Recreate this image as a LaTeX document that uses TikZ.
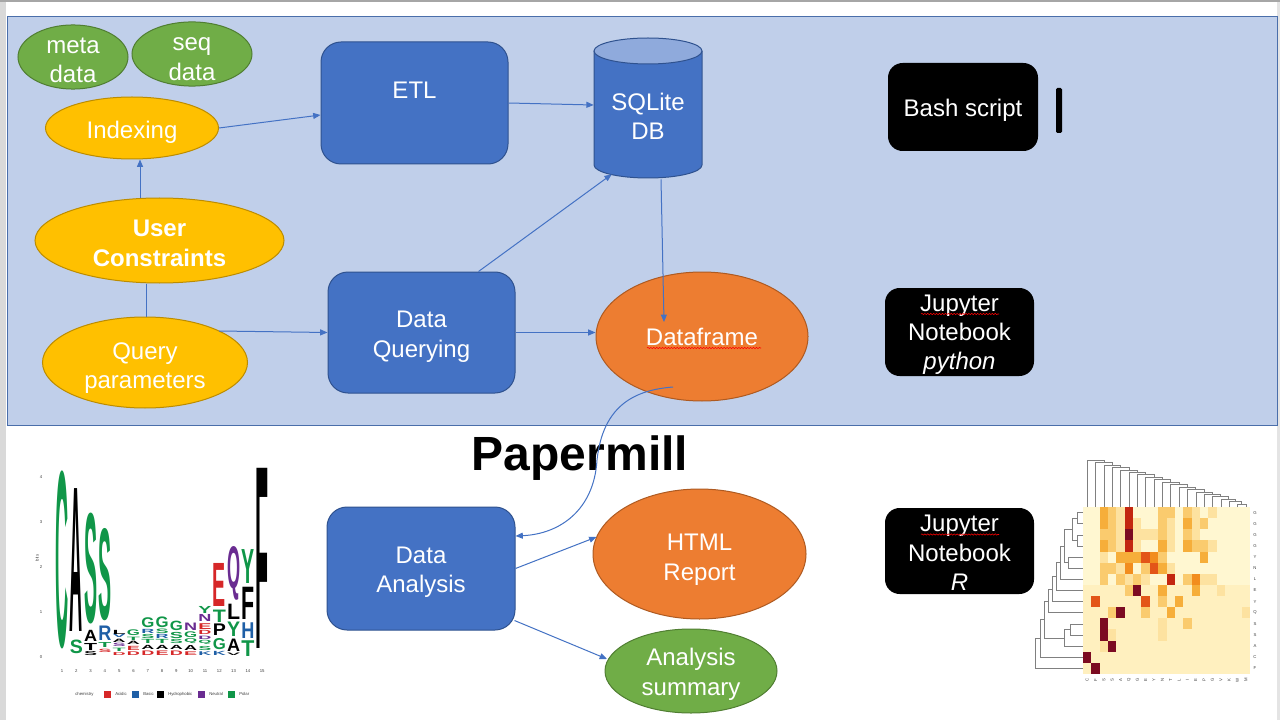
\documentclass[tikz,border=0pt]{standalone}
\usepackage{fontspec}
\setmainfont{Liberation Sans}
\usepackage{graphicx}
\usetikzlibrary{arrows.meta,calc,shapes.geometric,decorations.pathmorphing}

\definecolor{bgblue}{HTML}{C0CFEA}
\definecolor{bgline}{HTML}{4A6EAA}
\definecolor{accblue}{HTML}{4472C4}
\definecolor{darkblue}{HTML}{2F528F}
\definecolor{gold}{HTML}{FFC000}
\definecolor{golddk}{HTML}{BC8C00}
\definecolor{grn}{HTML}{70AD47}
\definecolor{grndk}{HTML}{507E32}
\definecolor{orng}{HTML}{ED7D31}
\definecolor{orngdk}{HTML}{AE5A21}
\definecolor{cyltop}{HTML}{8FAADC}
\definecolor{sidegray}{HTML}{D9D9D9}
\definecolor{topgray}{HTML}{A6A6A6}
\definecolor{lgG}{HTML}{109648}
\definecolor{lgR}{HTML}{D62728}
\definecolor{lgB}{HTML}{1F5FA6}
\definecolor{lgP}{HTML}{6A2C91}
\definecolor{lgK}{HTML}{000000}
\definecolor{hm9}{HTML}{FFF7D1}
\definecolor{hm0}{HTML}{FFF0BF}
\definecolor{hm1}{HTML}{FDE2A0}
\definecolor{hm2}{HTML}{FACB6E}
\definecolor{hm3}{HTML}{F6AE3A}
\definecolor{hm4}{HTML}{F28D1E}
\definecolor{hm5}{HTML}{E35518}
\definecolor{hm6}{HTML}{C3260F}
\definecolor{hm7}{HTML}{7C0B22}

\newcount\lgcnt
\newcommand\lgletter[5]{%
  \pgfmathsetmacro\lgx{62+14.3*(#1-1)}%
  \pgfmathsetmacro\lgy{657-45*(#2+0.04*(#3-#2))}%
  \pgfmathsetmacro\lgh{(#3-#2)*33.75*0.92}%
  \global\advance\lgcnt by 1\relax
  \node[anchor=south, inner sep=0pt, text=#5] (lg\the\lgcnt) at (\lgx,\lgy) {\resizebox*{9.8pt}{\lgh pt}{\bfseries #4}};%
}
\newcommand\dmerge[5]{%
  \draw[dend] (#1,#2) -- (#5,#2) -- (#5,#4) -- (#3,#4);%
}
% lower a line of text without changing its box
\newcommand\dn[2][1.7pt]{\raisebox{-#1}[\height][\depth]{#2}}

\tikzset{
  sz/.style 2 args={minimum width=#1*0.75pt, minimum height=#2*0.75pt},
  tsh/.style={text height=#1, text depth=-8.4pt},
  lbl/.style={text=white, font=\fontsize{18}{22}\selectfont, align=center, inner sep=0pt},
  ell/.style={lbl, ellipse, line width=0.75pt},
  bluebox/.style={lbl, rectangle, rounded corners=15pt, fill=accblue, draw=darkblue, line width=0.75pt},
  blk/.style={lbl, rectangle, rounded corners=11pt, fill=black},
  conn/.style={draw=accblue, line width=0.75pt, -{Triangle[length=5.5pt,width=4.5pt]}},
  pconn/.style={draw=accblue, line width=0.75pt},
  squig/.style={draw=red, line width=0.4pt, decorate, decoration={snake, amplitude=0.5pt, segment length=2.2pt}},
  dend/.style={draw=gray, line width=0.35pt},
  tinytxt/.style={font=\fontsize{3.2}{4}\selectfont, text=black!75, inner sep=0pt},
}

\begin{document}
\begin{tikzpicture}[x=0.75pt,y=-0.75pt]
\useasboundingbox (0,0) rectangle (1280,720);
\fill[white] (0,0) rectangle (1280,720);
\fill[sidegray] (0,0) rectangle (6,720);
\fill[sidegray!70] (1277,0) rectangle (1280,720);
\fill[topgray] (0,0) rectangle (1280,2);
\filldraw[fill=bgblue, draw=bgline, line width=0.75pt] (7,17) rectangle (1277,425);

% ---- top pipeline nodes
\node[ell, tsh=34pt, fill=grn, draw=grndk, sz={110}{64}] (meta) at (73,57) {\dn[2.25pt]{meta}\\\dn[2.25pt]{data}};
\node[ell, tsh=34pt, fill=grn, draw=grndk, sz={120}{62}] (seq) at (192,54) {\dn[2.6pt]{seq}\\\dn[2.6pt]{data}};
\node[ell, tsh=12pt, fill=gold, draw=golddk, sz={173}{62}] (idx) at (132,128) {\dn[1.9pt]{Indexing}};
\node[ell, tsh=34pt, fill=gold, draw=golddk, sz={249}{85}, font=\bfseries\fontsize{18}{22}\selectfont] (uc) at (159.5,240.5) {\dn[2.25pt]{User}\\\dn[2.25pt]{Constraints}};
\node[ell, tsh=34pt, fill=gold, draw=golddk, sz={205}{91}] (qp) at (145,362.5) {\dn[2.6pt]{Query}\\\dn[2.6pt]{parameters}};
\node[bluebox, tsh=34pt, sz={187}{122}] (etl) at (414.5,103) {\dn[1.5pt]{ETL}\\\mbox{}};
\node[bluebox, tsh=34pt, sz={187}{121}] (dq) at (421.5,332.5) {\dn[1.5pt]{Data}\\\dn[1.5pt]{Querying}};

% SQLite cylinder
\fill[accblue] (594,51) rectangle (702,165);
\fill[accblue] (648,165) ellipse [x radius=40.5pt, y radius=9.75pt];
\draw[darkblue, line width=0.75pt] (594,51) -- (594,165) arc[start angle=180, end angle=360, x radius=40.5pt, y radius=9.75pt] -- (702,51);
\filldraw[fill=cyltop, draw=darkblue, line width=0.75pt] (648,51) ellipse [x radius=40.5pt, y radius=9.75pt];
\node[lbl, sz={108}{140}] (sqlite) at (648,108) {};
\node[lbl] (sqltxt) at (648,116) {SQLite\\DB};

\node[ell, fill=orng, draw=orngdk, sz={212}{129}] (df) at (702,336.5) {Dataframe};
\draw[squig] ($(df.center)+(-55,11.5)$) -- ($(df.center)+(59,11.5)$);

\node[blk, tsh=12pt, sz={150}{88}] (bash) at (963,107) {\dn[1.5pt]{Bash script}};
\fill[black, rounded corners=1pt] (1056,88) rectangle (1062,133);
\node[blk, tsh=56pt, sz={149}{88}] (jpy) at (959.5,332) {\dn[0.4pt]{Jupyter}\\\dn[0.4pt]{Notebook}\\\dn[0.4pt]{\textit{python}}};
\draw[squig] ($(jpy.center)+(-38.5,-18)$) -- ($(jpy.center)+(39.5,-18)$);
\node[blk, tsh=56pt, sz={149}{86}] (jr) at (959.5,551) {\dn[1.5pt]{Jupyter}\\\dn[1.5pt]{Notebook}\\\dn[1.5pt]{\textit{R}}};
\draw[squig] ($(jr.center)+(-38.5,-16.5)$) -- ($(jr.center)+(39.5,-16.5)$);

% ---- lower part
\node[font=\bfseries\fontsize{36}{40}\selectfont, inner sep=0pt, anchor=base] (pm) at (580,470) {Papermill};
\node[bluebox, tsh=34pt, sz={188}{123}] (da) at (421,568.5) {\dn[1.1pt]{Data}\\\dn[1.1pt]{Analysis}};
\node[ell, tsh=34pt, fill=orng, draw=orngdk, sz={213}{130}] (html) at (699.5,554) {\dn[2.6pt]{HTML}\\\dn[2.6pt]{Report}};
\node[ell, tsh=34pt, fill=grn, draw=grndk, sz={172}{84}] (sum) at (691,671) {\dn[1.1pt]{Analysis}\\\dn[1.1pt]{summary}};

% ---- connectors
\coordinate (dfin) at ($(df.center)+(-38,-14.5)$);
\coordinate (dfout) at ($(df.center)+(-29,50.5)$);
\draw[conn] (idx.east) -- ($(etl.west)+(0,12)$);
\draw[conn] (etl.east) -- ($(sqlite.west)+(0,-3)$);
\draw[conn] ($(uc.north)+(-19.5,0.5)$) -- ($(idx.south)+(8,0)$);
\draw[pconn] ($(uc.south)+(-13.5,0)$) -- ($(qp.north)+(1,0)$);
\draw[conn] ($(qp.center)+(74,-31.5)$) -- (dq.west);
\draw[conn] ($(dq.north east)+(-37,0)$) -- ($(sqlite.south west)+(18,-4)$);
\draw[conn] (dq.east) -- (dq.east -| df.west);
\draw[conn] ($(sqlite.south)+(13,1)$) -- (dfin);
\draw[conn] (dfout) .. controls (635,390) and (603,405) .. (597,460) .. controls (594,510) and (560,534) .. ($(da.east)+(0,-32.5)$);
\draw[conn] (da.east) -- ($(html.center)+(-103,-17)$);
\draw[conn] ($(da.south east)+(-1,-10)$) -- ($(sum.center)+(-84,-12)$);

% ---- sequence logo
\lgletter{1}{0}{4.3}{C}{lgG}
\lgletter{2}{0.05}{0.38}{S}{lgG}
\lgletter{2}{0.42}{3.87}{A}{lgK}
\lgletter{3}{0.02}{0.12}{S}{lgK}
\lgletter{3}{0.13}{0.3}{T}{lgK}
\lgletter{3}{0.33}{0.6}{A}{lgK}
\lgletter{3}{0.62}{3.3}{S}{lgG}
\lgletter{4}{0.1}{0.18}{S}{lgR}
\lgletter{4}{0.2}{0.32}{T}{lgG}
\lgletter{4}{0.35}{0.7}{R}{lgB}
\lgletter{4}{0.72}{2.95}{S}{lgG}
\lgletter{5}{0.03}{0.1}{D}{lgR}
\lgletter{5}{0.12}{0.2}{T}{lgG}
\lgletter{5}{0.22}{0.3}{S}{lgP}
\lgletter{5}{0.32}{0.4}{A}{lgK}
\lgletter{5}{0.42}{0.5}{V}{lgB}
\lgletter{5}{0.5}{0.6}{L}{lgK}
\lgletter{6}{0.03}{0.12}{D}{lgR}
\lgletter{6}{0.14}{0.24}{E}{lgR}
\lgletter{6}{0.26}{0.34}{A}{lgK}
\lgletter{6}{0.36}{0.44}{T}{lgG}
\lgletter{6}{0.46}{0.6}{G}{lgG}
\lgletter{7}{0.03}{0.14}{D}{lgR}
\lgletter{7}{0.16}{0.26}{A}{lgK}
\lgletter{7}{0.28}{0.38}{T}{lgG}
\lgletter{7}{0.4}{0.5}{S}{lgG}
\lgletter{7}{0.52}{0.62}{R}{lgB}
\lgletter{7}{0.63}{0.87}{G}{lgG}
\lgletter{8}{0.03}{0.14}{E}{lgR}
\lgletter{8}{0.16}{0.26}{A}{lgK}
\lgletter{8}{0.28}{0.38}{T}{lgG}
\lgletter{8}{0.4}{0.5}{R}{lgB}
\lgletter{8}{0.52}{0.63}{S}{lgG}
\lgletter{8}{0.64}{0.9}{G}{lgG}
\lgletter{9}{0.03}{0.14}{D}{lgR}
\lgletter{9}{0.16}{0.26}{A}{lgK}
\lgletter{9}{0.28}{0.38}{S}{lgG}
\lgletter{9}{0.4}{0.55}{S}{lgG}
\lgletter{9}{0.57}{0.8}{G}{lgG}
\lgletter{10}{0.03}{0.12}{E}{lgR}
\lgletter{10}{0.14}{0.26}{A}{lgK}
\lgletter{10}{0.28}{0.4}{Q}{lgG}
\lgletter{10}{0.42}{0.56}{G}{lgG}
\lgletter{10}{0.58}{0.76}{N}{lgP}
\lgletter{11}{0.03}{0.12}{K}{lgB}
\lgletter{11}{0.14}{0.24}{S}{lgG}
\lgletter{11}{0.26}{0.36}{Q}{lgG}
\lgletter{11}{0.38}{0.46}{D}{lgP}
\lgletter{11}{0.48}{0.58}{D}{lgR}
\lgletter{11}{0.6}{0.74}{E}{lgR}
\lgletter{11}{0.77}{0.94}{N}{lgP}
\lgletter{11}{0.96}{1.13}{Y}{lgG}
\lgletter{12}{0.03}{0.13}{K}{lgB}
\lgletter{12}{0.15}{0.42}{G}{lgG}
\lgletter{12}{0.45}{0.73}{P}{lgK}
\lgletter{12}{0.76}{1.06}{T}{lgG}
\lgletter{12}{1.08}{2.12}{E}{lgR}
\lgletter{13}{0.03}{0.09}{V}{lgK}
\lgletter{13}{0.1}{0.4}{A}{lgK}
\lgletter{13}{0.43}{0.78}{Y}{lgG}
\lgletter{13}{0.81}{1.18}{L}{lgK}
\lgletter{13}{1.2}{2.5}{Q}{lgP}
\lgletter{14}{0.0}{0.38}{T}{lgG}
\lgletter{14}{0.4}{0.78}{H}{lgB}
\lgletter{14}{0.8}{1.58}{F}{lgK}
\lgletter{14}{1.6}{2.42}{Y}{lgG}
\lgletter{15}{0}{4.35}{F}{lgK}
\foreach \k in {0,...,4} \node[tinytxt] (ytick\k) at (41,{657-45*\k}) {\k};
\foreach \k in {1,...,15} \node[tinytxt] (xtick\k) at ({62+14.3*(\k-1)},671) {\k};
\node[tinytxt, rotate=90] (bitslbl) at (37,558) {bits};
\node[tinytxt, anchor=west] (chem) at (75,694) {chemistry};
\fill[lgR] (104,690.5) rectangle (111,697.5);
\node[tinytxt, anchor=west] (acid) at (115,694) {Acidic};
\fill[lgB] (132,690.5) rectangle (139,697.5);
\node[tinytxt, anchor=west] (basic) at (143,694) {Basic};
\fill[lgK] (157,690.5) rectangle (164,697.5);
\node[tinytxt, anchor=west] (hydro) at (168,694) {Hydrophobic};
\fill[lgP] (198,690.5) rectangle (205,697.5);
\node[tinytxt, anchor=west] (neut) at (209,694) {Neutral};
\fill[lgG] (228,690.5) rectangle (235,697.5);
\node[tinytxt, anchor=west] (polar) at (239,694) {Polar};

% ---- heatmap
\foreach \row [count=\r] in {
 {9,9,3,2,1,6,9,9,9,2,2,9,2,1,9,1,9,9,9,9},
 {9,9,3,2,1,6,1,9,9,2,1,9,3,1,2,9,9,9,9,9},
 {9,9,2,2,1,7,1,1,1,2,1,9,2,1,9,9,9,9,9,9},
 {9,9,3,2,1,6,1,9,9,3,1,9,3,2,2,1,9,9,9,9},
 {9,9,1,9,3,3,3,5,4,2,9,9,9,9,3,9,9,9,9,9},
 {9,9,2,2,1,4,9,2,5,3,1,9,9,9,9,9,9,9,9,9},
 {9,9,2,9,2,1,2,1,9,9,6,9,2,4,1,1,9,9,9,9},
 {0,0,0,0,0,2,7,0,0,3,0,0,0,3,0,0,1,0,0,0},
 {0,5,0,0,0,0,0,5,0,2,0,3,0,0,0,0,0,0,0,0},
 {0,0,0,2,7,0,0,2,0,0,3,0,0,0,0,0,0,0,0,1},
 {0,0,7,0,0,0,0,0,0,1,0,0,2,0,0,0,0,0,0,0},
 {0,0,7,1,0,0,0,0,0,1,0,0,0,0,0,0,0,0,0,0},
 {0,0,1,7,0,0,0,0,0,0,0,0,0,0,0,0,0,0,0,0},
 {7,0,0,0,0,0,0,0,0,0,0,0,0,0,0,0,0,0,0,0},
 {0,7,0,0,0,0,0,0,0,0,0,0,0,0,0,0,0,0,0,0}} {
  \foreach \v [count=\c] in \row {
    \fill[hm\v] ({1083+8.35*(\c-1)},{507+11.13*(\r-1)}) rectangle ++(8.4,11.2);
  }
}
\foreach \l [count=\r] in {G,G,G,G,Y,N,L,E,Y,Q,S,S,A,C,F}
  \node[tinytxt] (rowlbl\r) at (1255,{507+11.13*(\r-0.5)}) {\l};
\foreach \l [count=\c] in {C,F,S,S,A,Q,G,E,Y,N,T,L,I,E,P,G,V,K,W,M}
  \node[tinytxt, rotate=90] (collbl\c) at ({1083+8.35*(\c-0.5)},680) {\l};
% row dendrogram
\dmerge{1083}{512.6}{1083}{523.7}{1077}
\dmerge{1083}{534.8}{1083}{546.0}{1077}
\dmerge{1077}{518.15}{1077}{540.4}{1072}
\dmerge{1083}{557.1}{1083}{568.2}{1068}
\dmerge{1072}{529.3}{1068}{562.65}{1064}
\dmerge{1064}{546}{1083}{579.3}{1060}
\dmerge{1060}{562.65}{1083}{590.5}{1056}
\dmerge{1056}{576.6}{1083}{601.6}{1052}
\dmerge{1052}{589.1}{1083}{612.7}{1048}
\dmerge{1083}{623.9}{1083}{635.0}{1070}
\dmerge{1070}{629.45}{1083}{646.1}{1064}
\dmerge{1048}{600.9}{1064}{637.8}{1044}
\dmerge{1044}{619.35}{1083}{657.3}{1040}
\dmerge{1040}{638.3}{1083}{668.4}{1035}
% column dendrogram
\draw[dend] (1237.5,507) -- (1237.5,504) -- (1245.8,504) -- (1245.8,507);
\xdef\dpx{1241.65}\xdef\dpy{504}
\foreach \j in {18,17,...,1} {
  \pgfmathsetmacro\cx{1083+8.35*(\j-0.5)}
  \pgfmathsetmacro\ny{504-(19-\j)*2.44}
  \draw[dend] (\cx,507) -- (\cx,\ny) -- (\dpx,\ny) -- (\dpx,\dpy);
  \pgfmathsetmacro\npx{(\cx+\dpx)/2}
  \xdef\dpx{\npx}\xdef\dpy{\ny}
}
\end{tikzpicture}
\end{document}
